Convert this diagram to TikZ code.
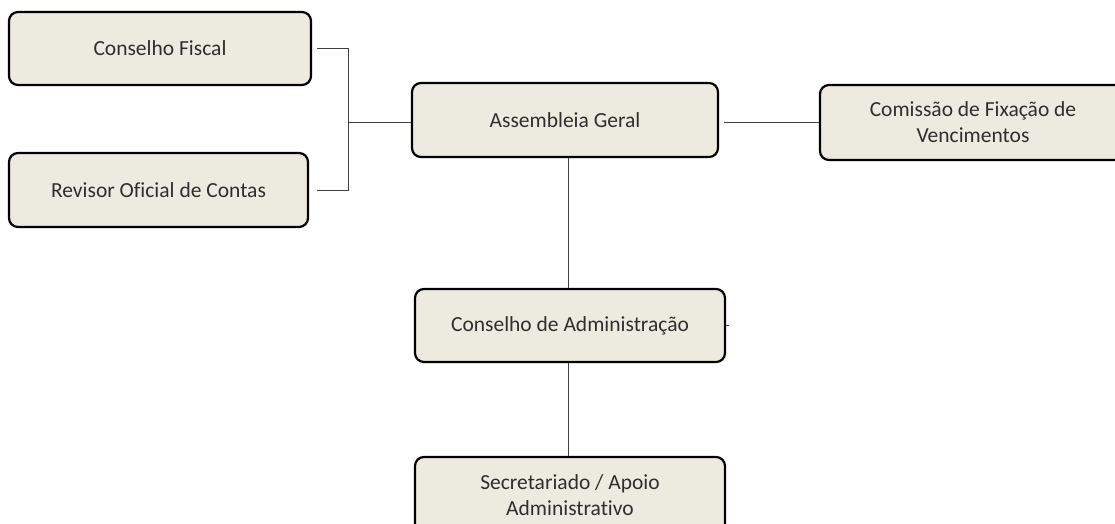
\documentclass[tikz,border=0pt]{standalone}
\usepackage{fontspec}
\setmainfont{Carlito}[Ligatures={NoCommon}]
\usetikzlibrary{calc}
\definecolor{boxfill}{HTML}{EDEBE0}
\definecolor{txt}{HTML}{2E2E2E}
\definecolor{conn}{HTML}{404040}
\tikzset{
  orgbox/.style={draw=black, line width=2.2pt, fill=boxfill, rounded corners=9pt,
    text=txt, align=center, inner sep=0pt,
    font=\fontsize{21.5}{26}\selectfont},
  link/.style={draw=conn, line width=1pt}
}
\begin{document}
\begin{tikzpicture}[x=1pt,y=1pt]
\useasboundingbox (0,0) rectangle (1115,523);
\clip (0,0) rectangle (1115,523);
\node[orgbox, minimum width=302pt, minimum height=73pt] (CF) at (160,474.5) {Conselho Fiscal};
\node[orgbox, minimum width=299pt, minimum height=74pt] (ROC) at (158.5,333) {Revisor Oficial de Contas};
\node[orgbox, minimum width=306pt, minimum height=74pt] (AG) at (565,403) {Assembleia Geral};
\node[orgbox, minimum width=306pt, minimum height=75pt] (CFV) at (973,400.5) {Comissão de Fixação de\\Vencimentos};
\node[orgbox, minimum width=310pt, minimum height=73pt] (CA) at (570,197.5) {Conselho de Administração};
\node[orgbox, minimum width=310pt, minimum height=76pt] (SA) at (570,28) {Secretariado / Apoio\\Administrativo};
\coordinate (J) at (348,400);
\draw[link] ([xshift=5pt]CF.east) -| (J);
\draw[link] ([xshift=8pt]ROC.east) -| (J);
\draw[link] (J) -- (J -| AG.west);
\draw[link] ([xshift=5pt]AG.east |- CFV.west) -- (CFV.west);
\draw[link] ([xshift=-2pt]CA.north) -- ([xshift=-2pt]CA.north |- AG.south);
\draw[link] ([xshift=-2pt]SA.north) -- ([xshift=-2pt]SA.north |- CA.south);
\draw[link] (CA.east) -- ++(3pt,0);
\end{tikzpicture}
\end{document}
